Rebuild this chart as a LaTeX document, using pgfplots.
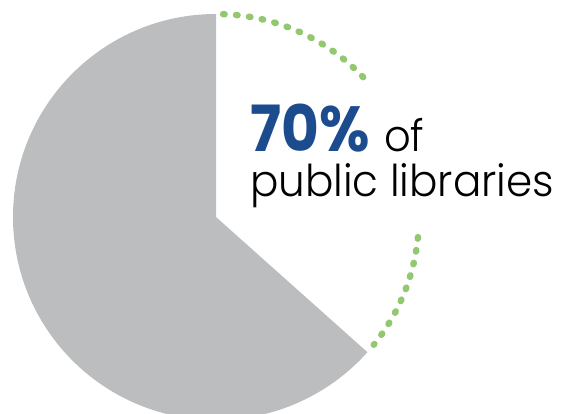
\documentclass[border=0pt]{standalone}
\usepackage{pgfplots}
\pgfplotsset{compat=1.18}
\usepackage{fontspec}
\IfFontExistsTF{Poppins Light}
  {\setmainfont{Poppins Light}[BoldFont=Poppins Bold]}
  {\setmainfont{Poppins}}
\definecolor{piegray}{HTML}{BCBDBF}
\definecolor{dotgreen}{HTML}{93C770}
\definecolor{textblue}{HTML}{1C4C8E}
\begin{document}
\begin{tikzpicture}
% pie: centre (216,197), radius 203 (1 unit = 1bp)
\def\cx{216}\def\cy{197}\def\r{203}
\def\grayshare{63.4} % share of the grey slice, per cent
\pgfmathsetmacro{\grayend}{90+3.6*\grayshare}
\begin{axis}[
    scale only axis, width=563bp, height=414bp,
    xmin=0, xmax=563, ymin=0, ymax=414,
    hide axis, clip=true,
]
\fill[piegray] (axis cs:\cx,\cy) -- (axis cs:\cx,\cy+\r)
    arc[start angle=90, end angle=\grayend, radius=\r bp] -- cycle;
% dotted outline of the remaining slice, broken where the text stands
\draw[dotgreen, line width=6.5bp, line cap=round, dash pattern=on 1.5bp off 11.5bp]
    (axis cs:\cx,\cy) ++(88:\r bp) arc[start angle=88, end angle=41, radius=\r bp];
\draw[dotgreen, line width=6.5bp, line cap=round, dash pattern=on 1.5bp off 11.5bp]
    (axis cs:\cx,\cy) ++(-5.7:\r bp) arc[start angle=-5.7, end angle=-39, radius=\r bp];
\node[anchor=base west, inner sep=0pt] at (axis cs:250,262)
    {\scalebox{0.91}[1]{\fontsize{64}{64}\selectfont\textbf{\color{textblue}70\%}}};
\node[anchor=base west, inner sep=0pt] at (axis cs:384,262)
    {\scalebox{0.95}[1]{\fontsize{44}{44}\selectfont of}};
\node[anchor=base west, inner sep=0pt] at (axis cs:250,217)
    {\scalebox{0.96}[1]{\fontsize{44}{44}\selectfont public libraries}};
\end{axis}
\pgfresetboundingbox
\path[use as bounding box] (current axis.south west) rectangle (current axis.north east);
\end{tikzpicture}
\end{document}
